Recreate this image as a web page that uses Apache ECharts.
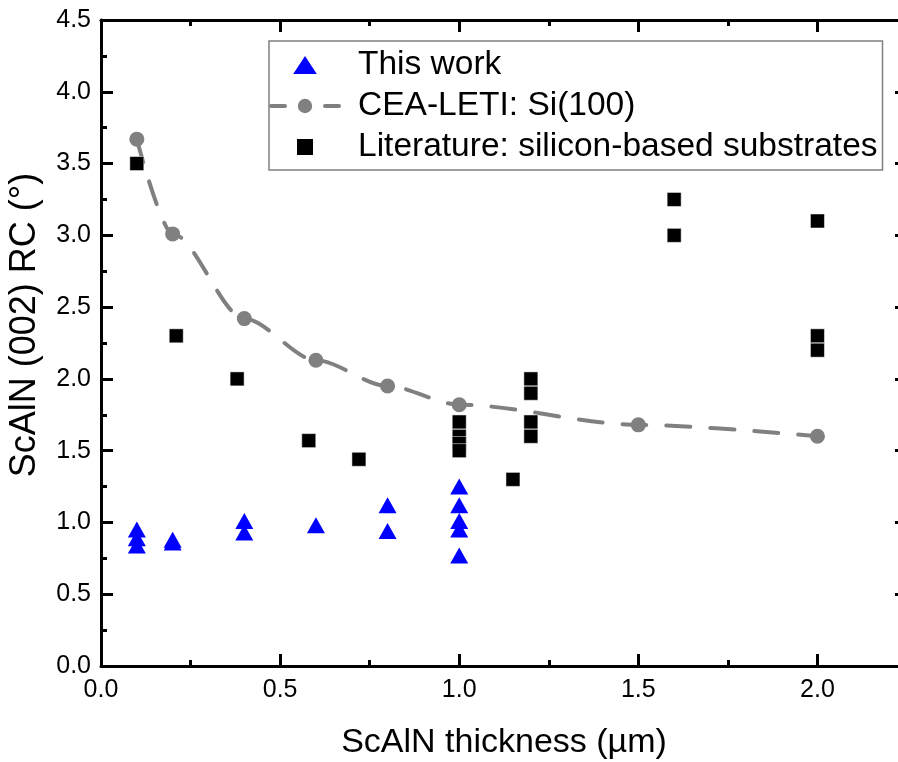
<!DOCTYPE html>
<html>
<head>
<meta charset="utf-8">
<script src="https://cdn.jsdelivr.net/npm/echarts@6/dist/echarts.min.js"></script>
<style>html,body{margin:0;padding:0;background:#fff;}#c{width:898px;height:762px;}</style>
</head>
<body>
<div id="c"></div>
<script>
// This work (blue triangles): [thickness µm, RC °]
var thisWorkX = [0.1, 0.1, 0.1, 0.2, 0.2, 0.4, 0.4, 0.6, 0.8, 0.8, 1.0, 1.0, 1.0, 1.0, 1.0];
var thisWorkY = [0.95, 0.89, 0.84, 0.88, 0.86, 1.01, 0.93, 0.98, 1.12, 0.94, 1.25, 1.12, 1.01, 0.95, 0.77];
// CEA-LETI Si(100)
var ceaX = [0.1, 0.2, 0.4, 0.6, 0.8, 1.0, 1.5, 2.0];
var ceaY = [3.67, 3.01, 2.42, 2.13, 1.95, 1.82, 1.68, 1.60];
// Literature: silicon-based substrates
var litX = [0.1, 0.21, 0.38, 0.58, 0.72, 1.0, 1.0, 1.0, 1.0, 1.15, 1.2, 1.2, 1.2, 1.2, 1.6, 1.6, 2.0, 2.0, 2.0];
var litY = [3.5, 2.3, 2.0, 1.57, 1.44, 1.7, 1.6, 1.55, 1.5, 1.3, 2.0, 1.9, 1.7, 1.6, 3.25, 3.0, 3.1, 2.3, 2.2];

var names = ['This work', 'CEA-LETI: Si(100)', 'Literature: silicon-based substrates'];
var xTitle = 'ScAlN thickness (µm)';
var yTitle = 'ScAlN (002) RC (°)';

function zip(a, b) { return a.map(function (v, i) { return [v, b[i]]; }); }

var font = 'Liberation Sans, Arial, sans-serif';
var axisLine = { show: true, onZero: false, lineStyle: { color: '#000', width: 3 } };
var tick = { show: true, inside: true, length: 12, lineStyle: { color: '#000', width: 3 } };
var minor = { show: true, splitNumber: 2, length: 6, lineStyle: { color: '#000', width: 3 } };

var chart = echarts.init(document.getElementById('c'), null, { renderer: 'canvas' });
chart.setOption({
  animation: false,
  backgroundColor: '#fff',
  grid: { left: 101, top: 20, width: 806, height: 646, containLabel: false, outerBoundsMode: 'none' },
  legend: {
    orient: 'vertical', left: 269, top: 41,
    borderColor: '#808080', borderWidth: 1.5,
    padding: [7, 5, 6, 0],
    itemWidth: 68, itemHeight: 18, itemGap: 7,
    symbolKeepAspect: true,
    lineStyle: { width: 4, type: [14, 40], cap: 'round' },
    textStyle: { fontSize: 33.5, color: '#000', fontFamily: font, padding: [0, 0, 0, 14] },
    data: [
      { name: names[0], icon: 'path://M0,16 L10.5,0 L21,16 Z' },
      { name: names[1] },
      { name: names[2], icon: 'path://M0,0 L14,0 L14,14 L0,14 Z' }
    ]
  },
  xAxis: [{
    type: 'value', min: 0, max: 2.25, interval: 0.5, position: 'bottom',
    axisLine: axisLine, axisTick: tick, minorTick: minor, splitLine: { show: false },
    axisLabel: { fontSize: 25, color: '#000', fontFamily: font, margin: 12, showMaxLabel: false,
      formatter: function (v) { return v.toFixed(1); } },
    name: xTitle, nameLocation: 'middle', nameGap: 60,
    nameTextStyle: { fontSize: 34, color: '#000', fontFamily: font }
  }, {
    type: 'value', min: 0, max: 2.25, interval: 0.5, position: 'top',
    axisLine: axisLine, axisTick: tick, minorTick: minor, splitLine: { show: false },
    axisLabel: { show: false }
  }],
  yAxis: [{
    type: 'value', min: 0, max: 4.5, interval: 0.5, position: 'left',
    axisLine: axisLine, axisTick: tick, minorTick: minor, splitLine: { show: false },
    axisLabel: { fontSize: 25, color: '#000', fontFamily: font, margin: 10,
      formatter: function (v) { return v.toFixed(1); } },
    name: yTitle, nameLocation: 'middle', nameGap: 58,
    nameTextStyle: { fontSize: 36, color: '#000', fontFamily: font, padding: [0, 0, 0, 36] }
  }, {
    type: 'value', min: 0, max: 4.5, interval: 0.5, position: 'right',
    axisLine: axisLine, axisTick: tick, minorTick: minor, splitLine: { show: false },
    axisLabel: { show: false }
  }],
  series: [{
    name: names[0], type: 'scatter', xAxisIndex: 0, yAxisIndex: 0,
    symbol: 'triangle', symbolSize: [18, 16],
    itemStyle: { color: '#0000FF', opacity: 1 },
    data: zip(thisWorkX, thisWorkY), z: 4
  }, {
    name: names[1], type: 'line', xAxisIndex: 0, yAxisIndex: 0,
    symbol: 'circle', symbolSize: 15, showSymbol: true,
    smooth: 0.3, smoothMonotone: 'x',
    lineStyle: { color: '#808080', width: 4, type: [24, 20], cap: 'round' },
    itemStyle: { color: '#808080', opacity: 1 },
    data: zip(ceaX, ceaY), z: 2
  }, {
    name: names[2], type: 'scatter', xAxisIndex: 0, yAxisIndex: 0,
    symbol: 'rect', symbolSize: 14,
    itemStyle: { color: '#000', opacity: 1, borderColor: '#fff', borderWidth: 0.5 },
    data: zip(litX, litY), z: 3
  }]
});
</script>
</body>
</html>
